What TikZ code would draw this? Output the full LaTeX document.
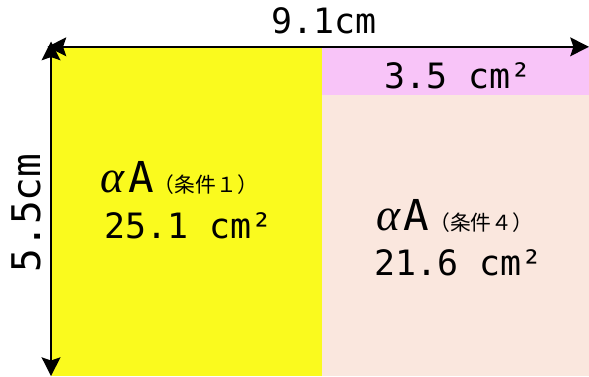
\documentclass[tikz,border=0pt]{standalone}
\usepackage{fontspec}
\newfontfamily\monofont{DejaVu Sans Mono}
\newfontfamily\jpfont{Noto Sans CJK JP}
\newfontfamily\alphafont{Liberation Serif}
\usetikzlibrary{arrows.meta}
\definecolor{lemon}{RGB}{250,250,30}
\definecolor{lilac}{RGB}{248,196,248}
\definecolor{peach}{RGB}{250,231,222}
\newcommand{\condlabel}[1]{{\alphafont\itshape\fontsize{22}{22}\selectfont α}\,{\monofont\fontsize{20.5}{22}\selectfont A}{\jpfont\fontsize{10}{12}\selectfont （条件#1）}}

\begin{document}
\begin{tikzpicture}[
  num/.style={font=\monofont\fontsize{16.8}{18}\selectfont, inner sep=0},
  cond/.style={inner sep=0},
  dim/.style={black, line width=1.1pt, <->, >={Stealth[length=9pt,width=9pt,inset=1.5pt]}}
]
\useasboundingbox (-0.863,0) rectangle (9.1,6.362);
\coordinate (O) at (0,0);
\coordinate (M) at (4.585,0);
\coordinate (S) at (4.585,4.755);
\coordinate (R) at (9.1,5.57);
\fill[lemon] (O) rectangle (4.585,5.57);
\fill[peach] (M) rectangle (9.1,4.755);
\fill[lilac] (S) rectangle (R);
\coordinate (L) at (-0.06,5.57);
\coordinate (U) at (0,5.66);
\draw[dim] (L)--(R);
\draw[dim] (U)--(O);
\node[num, anchor=base] (w) at (4.62,5.80) {9.1cm};
\node[num, font=\monofont\fontsize{19}{20}\selectfont, rotate=90] (h) at (-0.42,2.76) {5.5cm};
\node[num, anchor=base] (a3) at (6.88,4.87) {3.5 cm²};
\node[cond, anchor=base] (c1) at (2.17,3.11) {\condlabel{１}};
\node[num, anchor=base] (a1) at (2.33,2.335) {25.1 cm²};
\node[cond, anchor=base] (c4) at (6.83,2.47) {\condlabel{４}};
\node[num, anchor=base] (a4) at (6.89,1.71) {21.6 cm²};
\end{tikzpicture}
\end{document}
